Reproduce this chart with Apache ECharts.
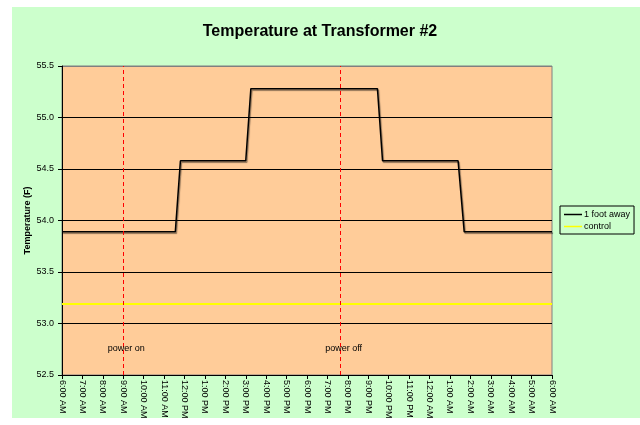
<!DOCTYPE html>
<html lang="en">
<head>
  <meta charset="UTF-8">
  <title>Temperature at Transformer #2</title>
  <script src="https://cdn.jsdelivr.net/npm/echarts@6/dist/echarts.min.js"></script>
  <style>
    html, body { margin: 0; padding: 0; background: #fff; }
    #main { width: 640px; height: 425px; }
  </style>
</head>
<body>
<div id="main"></div>
<script type="text/javascript">
  // x = hours after 6:00 AM
  var timeLabels = ['6:00 AM', '7:00 AM', '8:00 AM', '9:00 AM', '10:00 AM', '11:00 AM',
    '12:00 PM', '1:00 PM', '2:00 PM', '3:00 PM', '4:00 PM', '5:00 PM', '6:00 PM',
    '7:00 PM', '8:00 PM', '9:00 PM', '10:00 PM', '11:00 PM', '12:00 AM', '1:00 AM',
    '2:00 AM', '3:00 AM', '4:00 AM', '5:00 AM', '6:00 AM'];

  var footHours = [0, 5.55, 5.8, 9.0, 9.25, 15.45, 15.7, 19.4, 19.7, 24];
  var footTemps = [53.89, 53.89, 54.58, 54.58, 55.28, 55.28, 54.58, 54.58, 53.89, 53.89];

  var controlHours = [0, 24];
  var controlTemps = [53.19, 53.19];

  var eventNames = ['power on', 'power off'];
  var eventHours = [3, 13.65];
  var eventLabelY = 52.76;

  var foot = [];
  for (let i = 0; i < footHours.length; i++) {
    foot.push([footHours[i], footTemps[i]])
  }
  var control = [];
  for (let i = 0; i < controlHours.length; i++) {
    control.push([controlHours[i], controlTemps[i]])
  }
  var eventLines = [];
  var eventTexts = [];
  for (let i = 0; i < eventNames.length; i++) {
    eventLines.push({xAxis: eventHours[i]})
    eventTexts.push({coord: [eventHours[i], eventLabelY], value: eventNames[i]})
  }

  var font = 'Liberation Sans, Arial, sans-serif';
  var myChart = echarts.init(document.getElementById('main'));

  var option = {
    animation: false,
    backgroundColor: '#ffffff',
    graphic: [{
      type: 'rect',
      z: -10,
      shape: {x: 12, y: 7, width: 628, height: 411},
      style: {fill: '#CCFFCC'}
    }],
    title: {
      text: 'Temperature at Transformer #2',
      left: 'center',
      top: 19,
      textStyle: {fontFamily: font, fontSize: 16, fontWeight: 'bold', color: '#000'}
    },
    grid: {
      left: 62, top: 66, right: 88, bottom: 50,
      show: true,
      backgroundColor: '#FFCC99',
      borderColor: '#808080',
      borderWidth: 1
    },
    legend: {
      orient: 'vertical',
      left: 560,
      top: 206,
      padding: [4, 4, 3, 4],
      itemGap: 3,
      itemWidth: 18,
      itemHeight: 1.5,
      icon: 'rect',
      borderColor: '#000',
      borderWidth: 1,
      backgroundColor: '#CCFFCC',
      textStyle: {fontFamily: font, fontSize: 9, color: '#000', padding: [0, 0, 0, -3]},
      data: ['1 foot away', 'control']
    },
    xAxis: {
      type: 'value',
      min: 0,
      max: 24,
      interval: 1,
      splitLine: {show: false},
      axisLine: {lineStyle: {color: '#000', width: 1}},
      axisTick: {show: true, length: 4, lineStyle: {color: '#000'}},
      axisLabel: {
        rotate: -90,
        margin: 5,
        fontFamily: font,
        fontSize: 9,
        color: '#000',
        formatter: function (v) { return timeLabels[Math.round(v)]; }
      }
    },
    yAxis: {
      type: 'value',
      min: 52.5,
      max: 55.5,
      interval: 0.5,
      name: 'Temperature (F)',
      nameLocation: 'middle',
      nameGap: 30,
      nameMoveOverlap: false,
      nameTextStyle: {fontFamily: font, fontSize: 9, fontWeight: 'bold', color: '#000'},
      axisLine: {show: true, lineStyle: {color: '#000', width: 1}},
      axisTick: {show: true, length: 4, lineStyle: {color: '#000'}},
      axisLabel: {
        margin: 8,
        fontFamily: font,
        fontSize: 9,
        color: '#000',
        formatter: function (v) { return v.toFixed(1); }
      },
      splitLine: {
        show: true,
        lineStyle: {color: ['#000', '#000', '#000', '#000', '#000', '#000', '#808080'], width: 1}
      }
    },
    series: [
      {
        name: '1 foot away',
        type: 'line',
        data: foot,
        symbol: 'none',
        color: '#000',
        z: 3,
        lineStyle: {
          color: '#000', width: 1.5,
          shadowColor: 'rgba(0,0,0,0.45)', shadowBlur: 1, shadowOffsetX: 1, shadowOffsetY: 1.5
        },
        markLine: {
          silent: true,
          symbol: 'none',
          label: {show: false},
          lineStyle: {color: '#FF0000', type: [4, 3], width: 1},
          data: eventLines
        },
        markPoint: {
          silent: true,
          symbol: 'circle',
          symbolSize: 0,
          label: {
            show: true,
            offset: [3, 0],
            formatter: function (p) { return p.value; },
            fontFamily: font,
            fontSize: 9,
            color: '#000'
          },
          data: eventTexts
        }
      },
      {
        name: 'control',
        type: 'line',
        data: control,
        symbol: 'none',
        color: '#FFFF00',
        z: 2,
        lineStyle: {color: '#FFFF00', width: 2}
      }
    ]
  };
  myChart.setOption(option);
</script>
</body>
</html>
